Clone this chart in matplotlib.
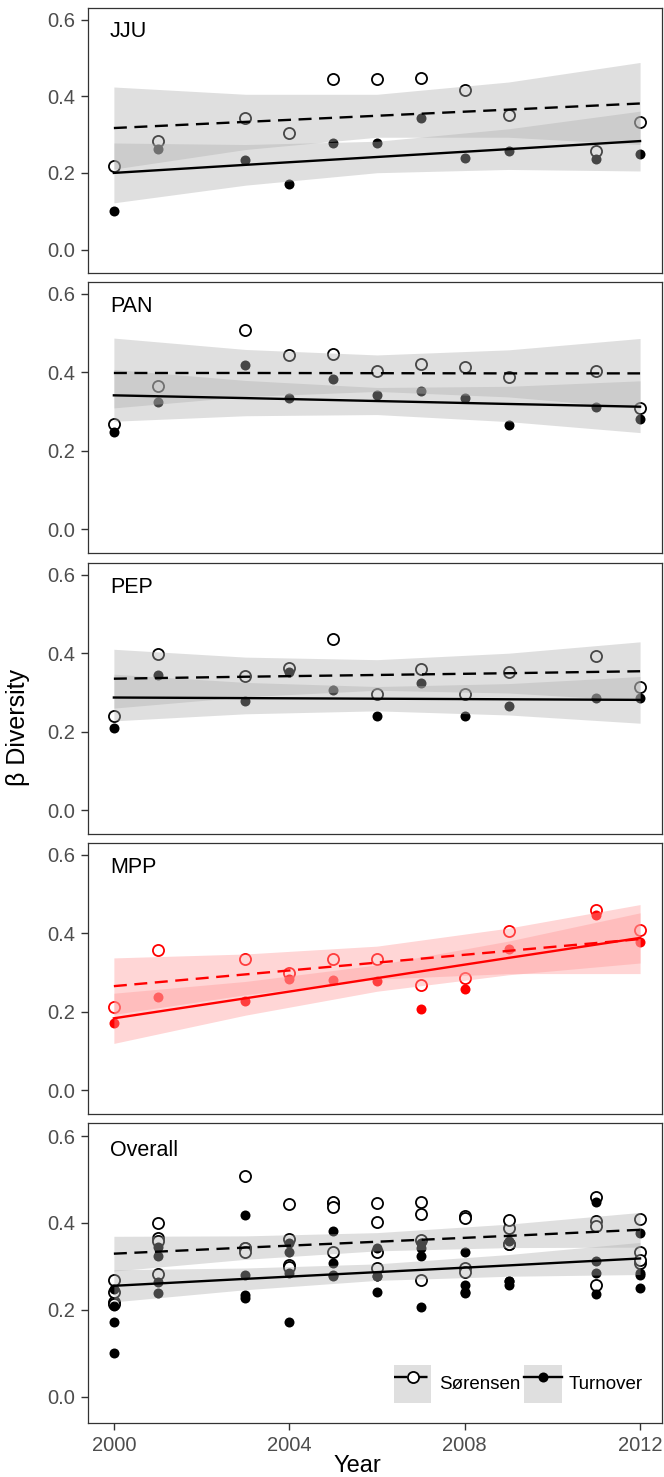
import matplotlib
matplotlib.use("Agg")
import matplotlib.pyplot as plt
from matplotlib.lines import Line2D
from matplotlib.patches import Patch

plt.rcParams['font.family'] = ['Liberation Sans', 'DejaVu Sans']

# ---------------- data ----------------
years = [2000, 2001, 2003, 2004, 2005, 2006, 2007, 2008, 2009, 2011, 2012]
sites = ["JJU", "PAN", "PEP", "MPP"]

JJU_sor = [0.217, 0.283, 0.343, 0.304, 0.445, 0.445, 0.448, 0.416, 0.351, 0.257, 0.332]
JJU_turn = [0.100, 0.263, 0.234, 0.172, 0.278, 0.278, 0.343, 0.239, 0.257, 0.236, 0.250]
PAN_sor = [0.269, 0.366, 0.507, 0.443, 0.447, 0.403, 0.420, 0.412, 0.388, 0.404, 0.308]
PAN_turn = [0.248, 0.323, 0.419, 0.333, 0.382, 0.342, 0.353, 0.333, 0.265, 0.311, 0.281]
PEP_sor = [0.240, 0.399, 0.342, 0.362, 0.436, 0.296, 0.360, 0.296, 0.352, 0.393, 0.314]
PEP_turn = [0.209, 0.344, 0.279, 0.353, 0.307, 0.241, 0.323, 0.241, 0.266, 0.285, 0.285]
MPP_sor = [0.212, 0.358, 0.333, 0.298, 0.333, 0.333, 0.269, 0.286, 0.406, 0.459, 0.409]
MPP_turn = [0.172, 0.238, 0.226, 0.284, 0.280, 0.278, 0.206, 0.257, 0.359, 0.447, 0.377]

# fitted trends and confidence bands
fit_years = [2000, 2003, 2006, 2009, 2012]

JJU_S_fit = [0.317, 0.333, 0.349, 0.365, 0.381]
JJU_S_lo = [0.210, 0.261, 0.293, 0.293, 0.274]
JJU_S_hi = [0.424, 0.405, 0.405, 0.437, 0.488]
JJU_T_fit = [0.200, 0.221, 0.2415, 0.262, 0.283]
JJU_T_lo = [0.122, 0.168, 0.2005, 0.209, 0.205]
JJU_T_hi = [0.278, 0.274, 0.2825, 0.315, 0.361]

PAN_S_fit = [0.398, 0.398, 0.3975, 0.397, 0.397]
PAN_S_lo = [0.309, 0.338, 0.351, 0.337, 0.308]
PAN_S_hi = [0.487, 0.458, 0.444, 0.457, 0.486]
PAN_T_fit = [0.341, 0.334, 0.3265, 0.319, 0.312]
PAN_T_lo = [0.275, 0.289, 0.292, 0.274, 0.246]
PAN_T_hi = [0.407, 0.379, 0.361, 0.364, 0.378]

PEP_S_fit = [0.335, 0.340, 0.3445, 0.349, 0.354]
PEP_S_lo = [0.260, 0.289, 0.3055, 0.2985, 0.279]
PEP_S_hi = [0.410, 0.390, 0.3835, 0.400, 0.429]
PEP_T_fit = [0.287, 0.2855, 0.284, 0.2825, 0.281]
PEP_T_lo = [0.2275, 0.2455, 0.253, 0.2425, 0.2215]
PEP_T_hi = [0.3465, 0.3255, 0.315, 0.3225, 0.3405]

MPP_S_fit = [0.265, 0.295, 0.325, 0.355, 0.385]
MPP_S_lo = [0.193, 0.243, 0.283, 0.297, 0.297]
MPP_S_hi = [0.337, 0.347, 0.367, 0.413, 0.473]
MPP_T_fit = [0.183, 0.234, 0.2855, 0.337, 0.388]
MPP_T_lo = [0.119, 0.191, 0.252, 0.294, 0.324]
MPP_T_hi = [0.247, 0.277, 0.319, 0.380, 0.452]

ALL_S_fit = [0.329, 0.343, 0.3565, 0.370, 0.384]
ALL_S_lo = [0.289, 0.316, 0.3355, 0.343, 0.344]
ALL_S_hi = [0.369, 0.370, 0.3775, 0.397, 0.424]
ALL_T_fit = [0.255, 0.271, 0.2865, 0.302, 0.318]
ALL_T_lo = [0.218, 0.246, 0.2675, 0.277, 0.281]
ALL_T_hi = [0.292, 0.296, 0.3055, 0.327, 0.355]

x_ticks = [2000, 2004, 2008, 2012]
y_ticks = [0.0, 0.2, 0.4, 0.6]
y_ticklabels = ["0.0", "0.2", "0.4", "0.6"]
legend_labels = ["Sørensen", "Turnover"]

# ---------------- layout ----------------
W, H = 664, 1477
fig = plt.figure(figsize=(W / 100, H / 100), dpi=100)
left_px, right_px = 88, 662
panels_px = [(8, 273), (282, 553), (563, 834), (843, 1114), (1123, 1423)]

GREY_FILL = (0.69, 0.69, 0.69)
RED_FILL = (1.0, 0.6, 0.6)
dash = (0, (5.5, 3.2))
ms_open, ms_fill = 8.0, 7.2

site_data = {
    "JJU": (JJU_sor, JJU_turn, JJU_S_fit, JJU_S_lo, JJU_S_hi, JJU_T_fit, JJU_T_lo, JJU_T_hi),
    "PAN": (PAN_sor, PAN_turn, PAN_S_fit, PAN_S_lo, PAN_S_hi, PAN_T_fit, PAN_T_lo, PAN_T_hi),
    "PEP": (PEP_sor, PEP_turn, PEP_S_fit, PEP_S_lo, PEP_S_hi, PEP_T_fit, PEP_T_lo, PEP_T_hi),
    "MPP": (MPP_sor, MPP_turn, MPP_S_fit, MPP_S_lo, MPP_S_hi, MPP_T_fit, MPP_T_lo, MPP_T_hi),
}

all_years = []
all_sor = []
all_turn = []
for s in sites:
    all_years += years
    all_sor += site_data[s][0]
    all_turn += site_data[s][1]
site_data["Overall"] = (all_sor, all_turn, ALL_S_fit, ALL_S_lo, ALL_S_hi, ALL_T_fit, ALL_T_lo, ALL_T_hi)

names = ["JJU", "PAN", "PEP", "MPP", "Overall"]
axes = []
for i, name in enumerate(names):
    top, bot = panels_px[i]
    ax = fig.add_axes([left_px / W, 1 - bot / H, (right_px - left_px) / W, (bot - top) / H])
    axes.append(ax)
    sor, turn, sfit, slo, shi, tfit, tlo, thi = site_data[name]
    xs = all_years if name == "Overall" else years
    col = "#FF0000" if name == "MPP" else "black"
    fill = RED_FILL if name == "MPP" else GREY_FILL

    ax.plot(xs, sor, linestyle="none", marker="o", ms=ms_open, mfc="white",
            mec=col, mew=1.3, zorder=2)
    ax.plot(xs, turn, linestyle="none", marker="o", ms=ms_fill, mfc=col,
            mec=col, mew=0, zorder=2)
    ax.fill_between(fit_years, slo, shi, color=fill, alpha=0.4, lw=0, zorder=3)
    ax.fill_between(fit_years, tlo, thi, color=fill, alpha=0.4, lw=0, zorder=3)
    ax.plot(fit_years, sfit, color=col, lw=1.7, linestyle=dash, zorder=4)
    ax.plot(fit_years, tfit, color=col, lw=1.7, zorder=4)

    ax.set_xlim(1999.41, 2012.50)
    ax.set_ylim(-0.061, 0.630)
    ax.set_yticks(y_ticks)
    ax.set_yticklabels(y_ticklabels)
    ax.set_xticks(x_ticks)
    for sp in ax.spines.values():
        sp.set_color("#333333")
        sp.set_linewidth(0.9)
    ax.tick_params(axis="both", colors="#333333", labelcolor="#4D4D4D",
                   labelsize=14.5, length=5, width=1.0, direction="out", pad=4.5)
    if i < len(names) - 1:
        ax.tick_params(axis="x", bottom=False, labelbottom=False)
    else:
        ax.set_xticklabels([str(v) for v in x_ticks])
    ax.text(0.038, 0.91, name, transform=ax.transAxes, fontsize=15.5,
            ha="left", va="center", color="black")

# legend in the last panel
ax = axes[-1]
h_s = (Patch(facecolor=GREY_FILL, alpha=0.4, edgecolor="none"),
       Line2D([], [], color="black", lw=1.7, linestyle=dash, marker="o",
              ms=ms_open, mfc="white", mec="black", mew=1.3))
h_t = (Patch(facecolor=GREY_FILL, alpha=0.4, edgecolor="none"),
       Line2D([], [], color="black", lw=1.7, marker="o", ms=ms_fill,
              mfc="black", mec="black", mew=0))
ax.legend([h_s, h_t], legend_labels, loc="lower left", bbox_to_anchor=(0.533, 0.067),
          ncol=2, frameon=False, fontsize=13.5, handlelength=2.0, handleheight=2.75,
          handletextpad=0.4, columnspacing=0.2, borderpad=0, borderaxespad=0,
          numpoints=1)

fig.text(357 / W, 1 - 1466 / H, "Year", ha="center", va="center", fontsize=17)
fig.text(18 / W, 1 - 728 / H, "β Diversity", ha="center", va="center",
         rotation=90, fontsize=18)

fig.savefig("out.png", dpi=100)
